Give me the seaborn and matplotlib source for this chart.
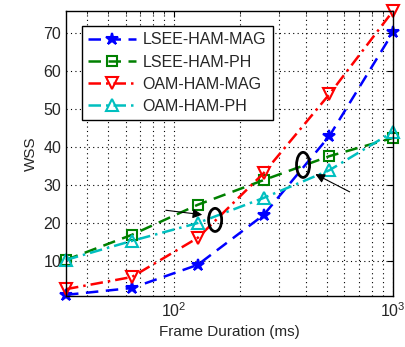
import matplotlib
matplotlib.use("Agg")
import matplotlib.pyplot as plt
from matplotlib.patches import Ellipse
from matplotlib.ticker import LogLocator, NullFormatter, FixedLocator
import seaborn as sns
import pandas as pd

# ---- data ----
frame_ms = [32, 64, 128, 256, 512, 1000]
lsee_mag = [1.0, 2.8, 8.9, 22.0, 42.8, 70.1]
lsee_ph = [10.2, 16.8, 24.7, 31.2, 37.5, 42.3]
oam_mag = [2.5, 5.7, 16.0, 33.0, 53.8, 75.7]
oam_ph = [10.2, 15.2, 19.9, 26.5, 33.8, 43.9]
series_names = ["LSEE-HAM-MAG", "LSEE-HAM-PH", "OAM-HAM-MAG", "OAM-HAM-PH"]
y_ticks = [10, 20, 30, 40, 50, 60, 70]

sns.set_style("white")
plt.rcParams["font.family"] = ["Liberation Sans", "DejaVu Sans"]
plt.rcParams["font.size"] = 11

fig = plt.figure(figsize=(4.06, 3.47), dpi=100)
ax = fig.add_axes([66 / 406, 51 / 347, 327 / 406, 285 / 347])

styles = [
    (lsee_mag, "#0000FF", "*", (0, (5, 3)), "#0000FF", 9),
    (lsee_ph, "#008000", "s", (0, (5, 3)), "none", 7),
    (oam_mag, "#FF0000", "v", (0, (5, 2, 1, 2)), "none", 8),
    (oam_ph, "#00BFBF", "^", (0, (5, 2, 1, 2)), "none", 8),
]
for name, (vals, col, mk, ls, mfc, ms) in zip(series_names, styles):
    df = pd.DataFrame({"x": frame_ms, "y": vals})
    sns.lineplot(data=df, x="x", y="y", ax=ax, color=col, marker=mk,
                 linestyle=ls, linewidth=1.8, markersize=ms,
                 markerfacecolor=mfc, markeredgecolor=col, markeredgewidth=1.5,
                 label=name, clip_on=False, errorbar=None)

ax.set_xscale("log")
ax.set_xlim(32, 1000)
ax.set_ylim(0.7, 75.7)
ax.set_yticks(y_ticks)
ax.xaxis.set_major_locator(FixedLocator([100, 1000]))
ax.xaxis.set_minor_locator(LogLocator(base=10, subs=range(2, 10)))
ax.xaxis.set_minor_formatter(NullFormatter())

ax.grid(True, which="major", color="black", linestyle=(0, (1, 3)), linewidth=0.8)
ax.grid(True, which="minor", axis="x", color="black", linestyle=(0, (1, 3)), linewidth=0.8)
ax.tick_params(which="both", direction="in", top=True, right=True, labelsize=11.5,
               color="black")
ax.tick_params(which="major", length=4)
ax.tick_params(which="minor", length=2.5)
for s in ax.spines.values():
    s.set_color("black")
    s.set_linewidth(1.0)

ax.set_xlabel("Frame Duration (ms)", fontsize=11)
ax.set_ylabel("WSS", fontsize=11)

leg = ax.legend(loc="upper left", bbox_to_anchor=(0.049, 0.947), borderaxespad=0,
                fontsize=11.5, handlelength=3, frameon=True, fancybox=False,
                edgecolor="black", framealpha=1, labelspacing=0.45,
                borderpad=0.4, handletextpad=0.4)
leg.get_frame().set_linewidth(1.0)

# annotations
for cx, cy, w, h in [(0.456, 0.267, 0.04, 0.081), (0.725, 0.46, 0.04, 0.088)]:
    ax.add_patch(Ellipse((cx, cy), w, h, transform=ax.transAxes, fill=False,
                         edgecolor="black", linewidth=2, zorder=5))
ax.annotate("", xy=(0.425, 0.284), xytext=(0.297, 0.302), xycoords="axes fraction",
            arrowprops=dict(arrowstyle="-|>", color="black", lw=0.8, mutation_scale=14))
ax.annotate("", xy=(0.755, 0.432), xytext=(0.875, 0.361), xycoords="axes fraction",
            arrowprops=dict(arrowstyle="-|>", color="black", lw=0.8, mutation_scale=14))

fig.savefig("out.png", dpi=100)
